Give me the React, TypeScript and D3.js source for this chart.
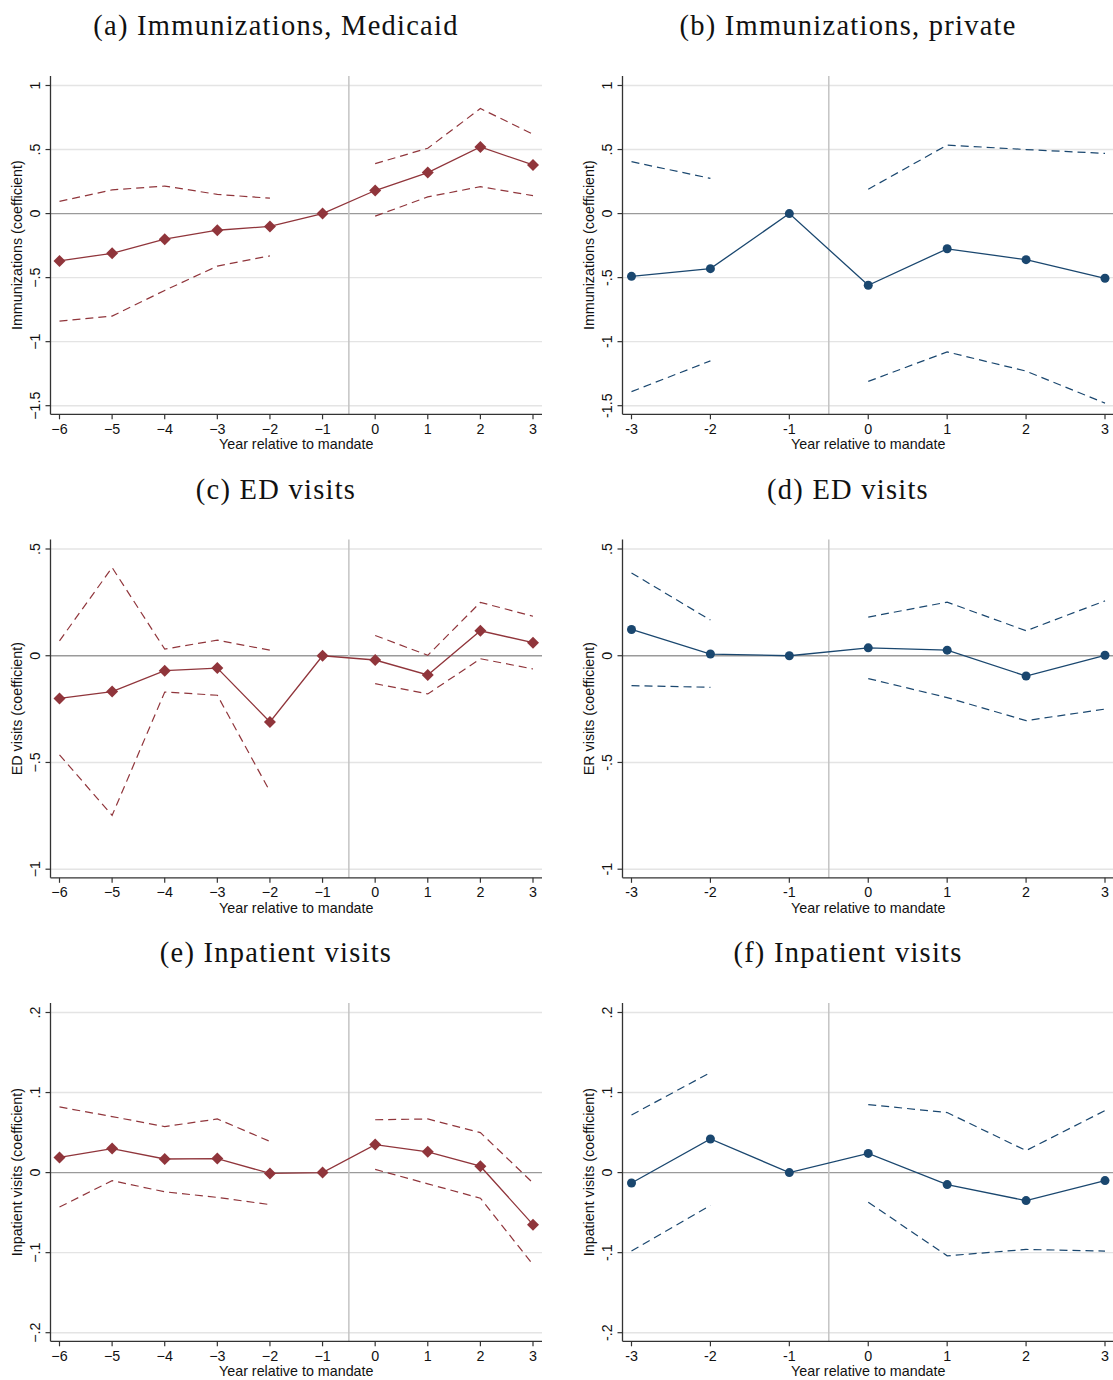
import React from "react";
import * as d3 from "d3";

// event-study coefficients
const yearsLong = [-6, -5, -4, -3, -2, -1, 0, 1, 2, 3];
const yearsShort = [-3, -2, -1, 0, 1, 2, 3];

const immMedCoef = [-0.37, -0.31, -0.2, -0.13, -0.1, 0, 0.18, 0.32, 0.52, 0.38];
const immMedHi = [0.095, 0.185, 0.215, 0.15, 0.12, null, 0.39, 0.51, 0.82, 0.62];
const immMedLo = [-0.84, -0.8, -0.6, -0.41, -0.33, null, -0.02, 0.13, 0.21, 0.14];

const immPrivCoef = [-0.49, -0.43, 0, -0.56, -0.275, -0.36, -0.505];
const immPrivHi = [0.405, 0.275, null, 0.19, 0.535, 0.5, 0.47];
const immPrivLo = [-1.39, -1.15, null, -1.31, -1.08, -1.23, -1.48];

const edMedCoef = [-0.2, -0.168, -0.07, -0.058, -0.31, 0, -0.02, -0.09, 0.117, 0.061];
const edMedHi = [0.07, 0.413, 0.031, 0.073, 0.026, null, 0.095, 0.002, 0.25, 0.185];
const edMedLo = [-0.464, -0.748, -0.17, -0.185, -0.636, null, -0.131, -0.179, -0.014, -0.062];

const edPrivCoef = [0.123, 0.008, 0, 0.037, 0.026, -0.095, 0.002];
const edPrivHi = [0.388, 0.167, null, 0.181, 0.251, 0.117, 0.257];
const edPrivLo = [-0.14, -0.148, null, -0.107, -0.196, -0.304, -0.25];

const inpMedCoef = [0.019, 0.03, 0.017, 0.0175, -0.001, 0, 0.035, 0.026, 0.008, -0.065];
const inpMedHi = [0.082, 0.07, 0.0575, 0.067, 0.039, null, 0.066, 0.067, 0.05, -0.013];
const inpMedLo = [-0.043, -0.01, -0.024, -0.031, -0.04, null, 0.004, -0.014, -0.032, -0.115];

const inpPrivCoef = [-0.013, 0.042, 0, 0.024, -0.015, -0.035, -0.01];
const inpPrivHi = [0.072, 0.125, null, 0.085, 0.075, 0.0275, 0.0775];
const inpPrivLo = [-0.098, -0.041, null, -0.037, -0.104, -0.096, -0.098];

const yTicksImm = [-1.5, -1, -0.5, 0, 0.5, 1];
const yTicksEd = [-1, -0.5, 0, 0.5];
const yTicksInp = [-0.2, -0.1, 0, 0.1, 0.2];

const titles = [
  "(a) Immunizations, Medicaid",
  "(b) Immunizations, private",
  "(c) ED visits",
  "(d) ED visits",
  "(e) Inpatient visits",
  "(f) Inpatient visits",
];
const yTitles = [
  "Immunizations (coefficient)",
  "Immunizations (coefficient)",
  "ED visits (coefficient)",
  "ER visits (coefficient)",
  "Inpatient visits (coefficient)",
  "Inpatient visits (coefficient)",
];

const MAROON = "#90353b";
const NAVY = "#1a476f";

const W = 1113;
const H = 1380;
const colX = [50.5, 622.5];
const titleX = [276, 848];
const rowTop = [76, 539.5, 1003];
const plotH = 338.3;
const plotW = 491.5;

// number label in Stata style: ".5", "-1.5"
const fmt = (v: number, minus: string) => {
  let s = Math.abs(v).toString().replace(/^0\./, ".");
  if (v < 0) s = minus + s;
  return s;
};

const panels = [
  { years: yearsLong, coef: immMedCoef, hi: immMedHi, lo: immMedLo, ticks: yTicksImm, kind: "med" },
  { years: yearsShort, coef: immPrivCoef, hi: immPrivHi, lo: immPrivLo, ticks: yTicksImm, kind: "priv" },
  { years: yearsLong, coef: edMedCoef, hi: edMedHi, lo: edMedLo, ticks: yTicksEd, kind: "med" },
  { years: yearsShort, coef: edPrivCoef, hi: edPrivHi, lo: edPrivLo, ticks: yTicksEd, kind: "priv" },
  { years: yearsLong, coef: inpMedCoef, hi: inpMedHi, lo: inpMedLo, ticks: yTicksInp, kind: "med" },
  { years: yearsShort, coef: inpPrivCoef, hi: inpPrivHi, lo: inpPrivLo, ticks: yTicksInp, kind: "priv" },
];

const Panel = ({ p, i }: { p: any; i: number }) => {
  const col = i % 2;
  const row = Math.floor(i / 2);
  const x0 = colX[col];
  const top = rowTop[row];
  const bottom = top + plotH;
  const right = x0 + plotW;
  const color = p.kind === "med" ? MAROON : NAVY;
  const minus = p.kind === "med" ? "\u2212" : "-";

  const xScale = d3
    .scaleLinear()
    .domain([p.years[0], p.years[p.years.length - 1]])
    .range([x0 + 9, right - 9]);
  const yScale = d3
    .scaleLinear()
    .domain([p.ticks[0], p.ticks[p.ticks.length - 1]])
    .range([bottom - 8.6, top + 9.5]);

  const mk = (vals: (number | null)[]) =>
    d3
      .line<number | null>()
      .defined((d) => d !== null)
      .x((_, k) => xScale(p.years[k]))
      .y((d) => yScale(d as number))(vals) || "";

  const font = "'Liberation Sans', Arial, sans-serif";
  const fs = 14.3;

  return (
    <g>
      <text
        x={titleX[col]}
        y={top - 41}
        textAnchor="middle"
        fontFamily="'Liberation Serif', 'DejaVu Serif', serif"
        fontSize={28.5}
        letterSpacing={1.25}
        fill="#111"
      >
        {titles[i]}
      </text>
      {/* grid */}
      {p.ticks.map((t: number) => (
        <line key={t} x1={x0} x2={right} y1={yScale(t)} y2={yScale(t)} stroke={t === 0 ? "#9a9a9a" : "#e4e4e4"} strokeWidth={1.4} />
      ))}
      <line x1={xScale(-0.5)} x2={xScale(-0.5)} y1={top} y2={bottom} stroke="#c4c4c4" strokeWidth={1.5} />
      {/* CIs */}
      <path d={mk(p.hi)} fill="none" stroke={color} strokeWidth={1.2} strokeDasharray="8,5" />
      <path d={mk(p.lo)} fill="none" stroke={color} strokeWidth={1.2} strokeDasharray="8,5" />
      <path d={mk(p.coef)} fill="none" stroke={color} strokeWidth={1.3} />
      {p.coef.map((v: number, k: number) => {
        const cx = xScale(p.years[k]);
        const cy = yScale(v);
        return p.kind === "med" ? (
          <path key={k} d={`M${cx},${cy - 6}L${cx + 6},${cy}L${cx},${cy + 6}L${cx - 6},${cy}Z`} fill={color} />
        ) : (
          <circle key={k} cx={cx} cy={cy} r={4.5} fill={color} />
        );
      })}
      {/* axes */}
      <line x1={x0} x2={x0} y1={top} y2={bottom} stroke="#333" strokeWidth={1.3} />
      <line x1={x0} x2={right} y1={bottom} y2={bottom} stroke="#333" strokeWidth={1.3} />
      {p.ticks.map((t: number) => (
        <g key={"yt" + t}>
          <line x1={x0 - 5} x2={x0} y1={yScale(t)} y2={yScale(t)} stroke="#333" strokeWidth={1.2} />
          <text
            transform={`translate(${x0 - 11},${yScale(t)}) rotate(-90)`}
            textAnchor="middle"
            fontFamily={font}
            fontSize={fs}
            fill="#111"
          >
            {fmt(t, minus)}
          </text>
        </g>
      ))}
      {p.years.map((y: number) => (
        <g key={"xt" + y}>
          <line x1={xScale(y)} x2={xScale(y)} y1={bottom} y2={bottom + 5} stroke="#333" strokeWidth={1.2} />
          <text x={xScale(y)} y={bottom + 19.5} textAnchor="middle" fontFamily={font} fontSize={fs} fill="#111">
            {fmt(y, minus)}
          </text>
        </g>
      ))}
      <text x={(x0 + x0 + plotW) / 2} y={bottom + 35} textAnchor="middle" fontFamily={font} fontSize={fs} fill="#111">
        Year relative to mandate
      </text>
      <text
        transform={`translate(${x0 - 29},${(top + bottom) / 2}) rotate(-90)`}
        textAnchor="middle"
        fontFamily={font}
        fontSize={fs}
        fill="#111"
      >
        {yTitles[i]}
      </text>
    </g>
  );
};

export default function App() {
  return (
    <div style={{ position: "absolute", left: 0, top: 0, width: W, height: H, background: "#fff" }}>
      <svg width={W} height={H} style={{ display: "block" }}>
        <rect width={W} height={H} fill="#fff" />
        {panels.map((p, i) => (
          <Panel key={i} p={p} i={i} />
        ))}
      </svg>
    </div>
  );
}
